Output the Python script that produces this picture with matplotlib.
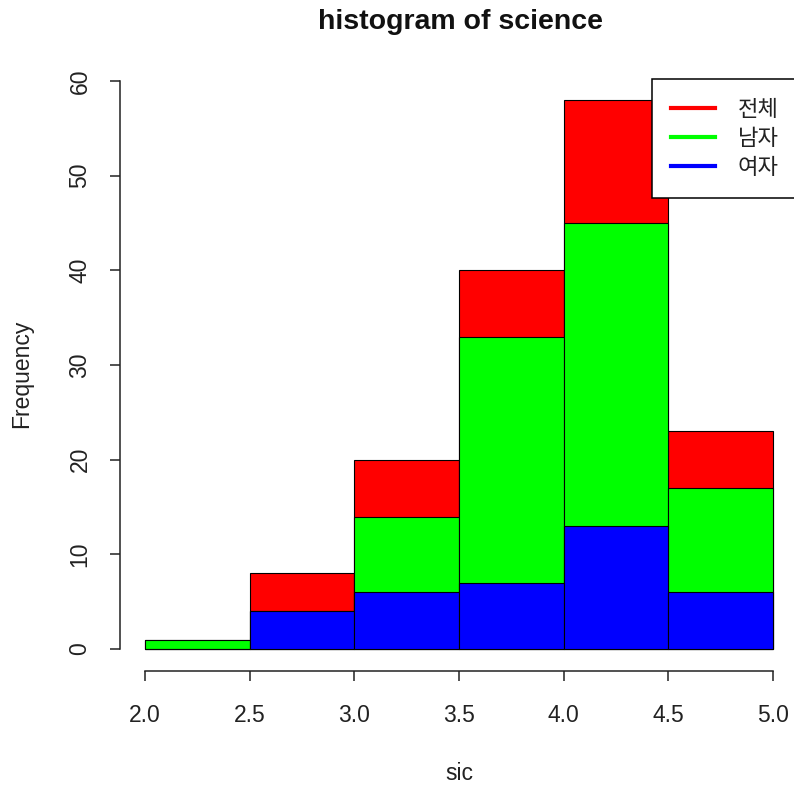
import numpy as np
import matplotlib
matplotlib.use("Agg")
import matplotlib.pyplot as plt
from matplotlib.lines import Line2D

plt.rcParams['font.family'] = ['Liberation Sans', 'Noto Sans CJK KR', 'DejaVu Sans']

# histogram counts for science score, bins of width 0.5
bin_edges = [2.0, 2.5, 3.0, 3.5, 4.0, 4.5, 5.0]
count_all = [1, 8, 20, 40, 58, 23]
count_male = [1, 4, 14, 33, 45, 17]
count_female = [0, 4, 6, 7, 13, 6]

series = [("전체", count_all, "#ff0000"),
          ("남자", count_male, "#00ff00"),
          ("여자", count_female, "#0000ff")]

W, H = 794, 787
fig = plt.figure(figsize=(W / 100, H / 100), dpi=100)
# plot region in pixels: x 120..798, y 78..671
ax = fig.add_axes([120 / W, 1 - 671 / H, (798 - 120) / W, (671 - 78) / H])

left = np.array(bin_edges[:-1])
widths = np.diff(bin_edges)
for name, counts, col in series:
    ax.bar(left, counts, width=widths, align='edge', color=col,
           edgecolor='black', linewidth=0.8)

ax.set_xlim(1.88, 5.12)
ax.set_ylim(-2.32, 60.32)

for s in ['top', 'right']:
    ax.spines[s].set_visible(False)
ax.spines['left'].set_bounds(0, 60)
ax.spines['bottom'].set_bounds(2, 5)
for s in ['left', 'bottom']:
    ax.spines[s].set_linewidth(1.1)
    ax.spines[s].set_color('#222222')

xt = np.arange(2.0, 5.01, 0.5)
ax.set_xticks(xt)
ax.set_xticklabels([f"{v:.1f}" for v in xt])
ax.set_yticks(np.arange(0, 61, 10))
ax.tick_params(axis='both', direction='out', length=7.5, width=1.1,
               color='#222222', labelsize=16.5, labelcolor='#222222')
ax.tick_params(axis='x', pad=16)
ax.tick_params(axis='y', pad=13)
for lbl in ax.get_yticklabels():
    lbl.set_rotation(90)
    lbl.set_va('center')

fig.text(461 / W, 1 - 22 / H, "histogram of science", ha='center', va='center',
         fontsize=20.5, fontweight='bold', color='#111111')
fig.text(459 / W, 1 - 773 / H, "sic", ha='center', va='center',
         fontsize=16.5, color='#222222')
fig.text(22 / W, 1 - 374 / H, "Frequency", ha='center', va='center',
         rotation=90, fontsize=16.5, color='#222222')

handles = [Line2D([], [], color=col, lw=3) for _, _, col in series]
leg = ax.legend(handles, [n for n, _, _ in series], loc='upper left',
                bbox_to_anchor=(652 / W, 1 - 79 / H), bbox_transform=fig.transFigure,
                fancybox=False, framealpha=1, edgecolor='black', fontsize=16,
                handlelength=2.0, handletextpad=1.0, labelspacing=0.27,
                borderpad=0.85, borderaxespad=0)
leg.get_frame().set_linewidth(1.1)
for t in leg.get_texts():
    t.set_color('#222222')
    t.set_family(['Noto Sans CJK KR', 'DejaVu Sans'])

fig.savefig("out.png", dpi=100)
